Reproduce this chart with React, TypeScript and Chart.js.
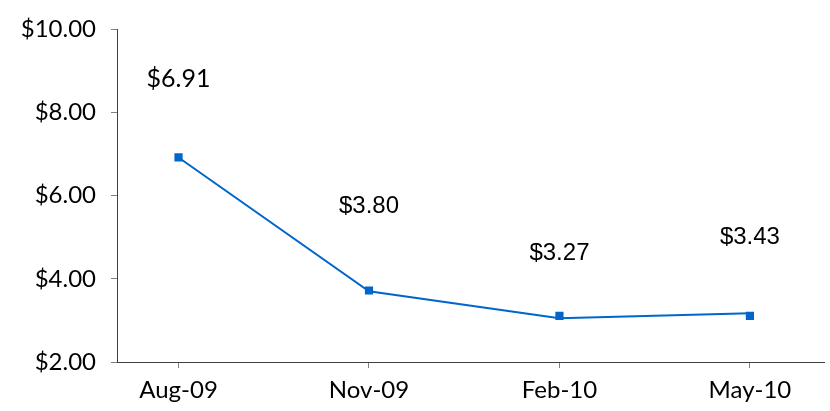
import React, { useEffect, useRef } from "react";
import { Chart, registerables } from "chart.js";

Chart.register(...registerables);

const categories = ["Aug-09", "Nov-09", "Feb-10", "May-10"];
const lineValues = [6.92, 3.7, 3.05, 3.17];
const markerValues = [6.92, 3.72, 3.11, 3.11];
const labelTexts = ["$6.91", "$3.80", "$3.27", "$3.43"];
const labelAnchorValues = [8.82, 5.75, 4.62, 4.99];
const yTicks = [2, 4, 6, 8, 10];

const BLUE = "#0066CC";
const FUTURA = "Lato, 'DejaVu Sans', sans-serif";
const ARIAL = "'Liberation Sans', Arial, sans-serif";
const labelFonts = [FUTURA, ARIAL, ARIAL, ARIAL];

const labelPlugin = {
  id: "pointLabels",
  afterDatasetsDraw(chart: any) {
    const meta = chart.getDatasetMeta(2);
    const ctx = chart.ctx;
    ctx.save();
    ctx.fillStyle = "#000000";
    ctx.textAlign = "center";
    ctx.textBaseline = "middle";
    meta.data.forEach((pt: any, i: number) => {
      ctx.font = `${i === 0 ? 25 : 24}px ${labelFonts[i]}`;
      ctx.fillText(labelTexts[i], pt.x, pt.y);
    });
    ctx.restore();
  },
};

export default function App() {
  const ref = useRef<HTMLCanvasElement | null>(null);
  useEffect(() => {
    if (!ref.current) return;
    const chart = new Chart(ref.current, {
      type: "line",
      data: {
        datasets: [
          {
            data: lineValues.map((v, i) => ({ x: i, y: v })),
            borderColor: BLUE,
            borderWidth: 2,
            pointRadius: 0,
            fill: false,
          },
          {
            data: markerValues.map((v, i) => ({ x: i, y: v })),
            showLine: false,
            pointStyle: "rect",
            pointRadius: 5.8,
            backgroundColor: BLUE,
            borderColor: BLUE,
            borderWidth: 0,
          },
          {
            data: labelAnchorValues.map((v, i) => ({ x: i, y: v })),
            showLine: false,
            pointRadius: 0,
            borderWidth: 0,
          },
        ],
      },
      options: {
        responsive: false,
        animation: false,
        layout: { padding: { top: 26, right: 0, left: 0, bottom: 0 } },
        plugins: { legend: { display: false }, tooltip: { enabled: false } },
        scales: {
          x: {
            type: "linear",
            min: -0.323,
            max: 3.39,
            afterBuildTicks: (s: any) => {
              s.ticks = categories.map((_, i) => ({ value: i }));
            },
            afterFit: (s: any) => {
              s.height = 49;
            },
            grid: {
              drawOnChartArea: false,
              tickLength: 6,
              color: "#808080",
            },
            border: { color: "#404040", width: 1 },
            ticks: {
              padding: 8,
              color: "#000000",
              font: { family: FUTURA, size: 24 },
              maxRotation: 0,
              autoSkip: false,
              callback: (v: any) => categories[Math.round(Number(v))] ?? "",
            },
          },
          y: {
            min: 2,
            max: 10,
            afterBuildTicks: (s: any) => {
              s.ticks = yTicks.map((v) => ({ value: v }));
            },
            afterFit: (s: any) => {
              s.width = 117;
            },
            grid: {
              drawOnChartArea: false,
              tickLength: 6,
              color: "#808080",
            },
            border: { color: "#404040", width: 1 },
            ticks: {
              padding: 15,
              color: "#000000",
              font: { family: FUTURA, size: 24 },
              callback: (v: any) => "$" + Number(v).toFixed(2),
            },
          },
        },
      },
      plugins: [labelPlugin],
    } as any);
    return () => chart.destroy();
  }, []);
  return (
    <div style={{ position: "fixed", left: 0, top: 0, width: 830, height: 411, background: "#fff" }}>
      <canvas ref={ref} width={830} height={411} />
    </div>
  );
}
